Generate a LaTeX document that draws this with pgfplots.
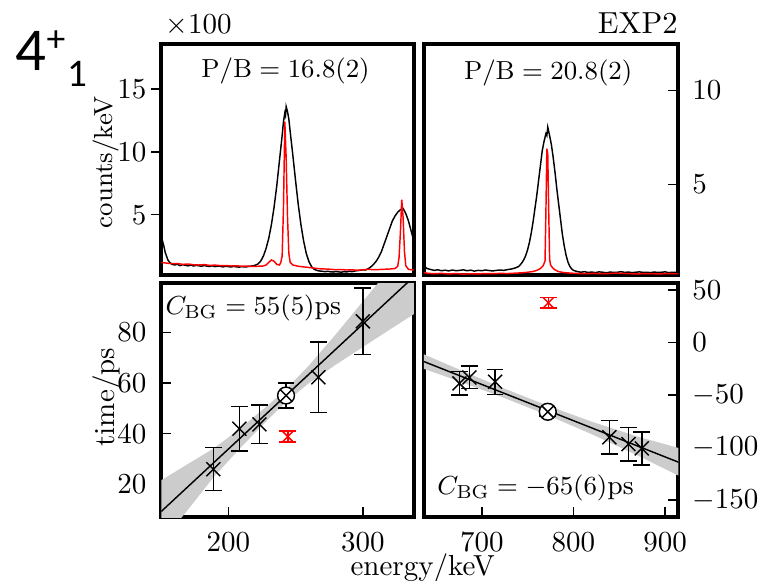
\documentclass[border=0pt]{standalone}
\usepackage{fontspec}
\usepackage{pgfplots}
\pgfplotsset{compat=1.18}
\newfontfamily\carlito{Carlito}
\definecolor{bandgray}{RGB}{204,204,204}

\pgfplotsset{
  panel/.style={scale only axis, anchor=south west,
    axis line style={line width=1.4pt},
    tick style={black, line width=0.5pt},
    major tick length=3.5pt,
    tick label style={font=\fontsize{10}{12}\selectfont}},
  leftlab/.style={ytick pos=left, yticklabel style={anchor=east, inner sep=0pt, xshift=#1}},
  rightlab/.style={ytick pos=right, yticklabel pos=right,
    yticklabel style={anchor=west, inner sep=0pt, xshift=4.6pt}},
  botlab/.style={xtick pos=bottom, xticklabel style={anchor=north, inner sep=0pt, yshift=-5.2pt}},
  spec/.style={sharp plot, line width=0.5pt, no marks},
  pts/.style={only marks, mark=x, mark size=3.4pt, black, line width=0.5pt,
    error bars/y dir=both, error bars/y explicit,
    error bars/error bar style={line width=0.5pt},
    error bars/error mark options={rotate=90, mark size=2.9pt, line width=0.5pt}},
}

\begin{document}
\begin{tikzpicture}
\useasboundingbox (0,0) rectangle (263.2pt,-200.4pt);

% top left spectrum
\begin{axis}[panel, at={(55.65pt,-94.88pt)}, width=87.11pt, height=79.77pt,
  xmin=150.1, xmax=338, ymin=0.2, ymax=18.6, xtick=\empty,
  ytick={5,10,15}, tick align=outside, leftlab=-1.5pt]
\addplot[spec, black] table {
150 3.4
151 2.9
152 2.5
153 2.0
154 1.7
155 1.4
156 1.25
158 1.05
160 1.0
162 1.06
164 0.95
166 1.02
168 0.98
170 0.93
172 1.0
174 0.92
176 0.97
178 0.94
180 0.9
182 0.96
184 0.91
186 0.88
188 0.94
190 0.87
192 0.92
194 0.89
196 0.85
198 0.9
200 0.87
202 0.84
204 0.89
206 0.85
208 0.83
210 0.87
212 0.84
214 0.86
216 0.9
218 0.93
220 0.98
222 1.08
224 1.3
226 1.7
228 2.3
230 3.1
232 4.2
234 5.6
236 7.3
238 9.3
240 11.3
241 12.4
242 13.1
242.5 12.9
243 13.6
244 13.2
245 12.6
246 11.6
248 9.7
250 7.7
252 5.8
254 4.2
256 2.9
258 1.9
260 1.25
262 0.85
264 0.65
266 0.56
268 0.52
270 0.5
272 0.47
274 0.5
276 0.46
278 0.44
280 0.48
282 0.45
284 0.43
286 0.47
288 0.45
290 0.5
292 0.47
294 0.52
296 0.55
298 0.58
300 0.62
302 0.6
304 0.7
306 0.85
308 1.05
310 1.3
312 1.65
314 2.1
316 2.7
318 3.3
320 3.9
322 4.5
324 4.9
326 5.2
328 5.4
330 5.5
332 5.1
334 4.5
336 3.7
338 2.9
340 2.3
};
\addplot[spec, red] table {
150 1.2
154 1.15
158 1.1
162 1.12
166 1.05
170 1.08
174 1.02
178 1.0
182 1.03
186 0.97
190 0.99
194 0.95
198 0.96
202 0.92
206 0.94
210 0.9
214 0.92
218 0.88
222 0.9
226 0.92
228 1.0
230 1.2
232 1.4
234 1.3
236 1.05
238 1.0
239 1.2
240 1.7
241 5.6
242 12.4
243 9.5
244 4.8
245 1.9
246 1.2
248 1.0
252 0.9
256 0.85
260 0.8
264 0.75
268 0.7
272 0.68
276 0.66
280 0.62
284 0.64
288 0.6
292 0.62
296 0.58
300 0.62
304 0.66
308 0.62
312 0.64
316 0.66
320 0.68
324 0.72
326 0.9
327 1.6
328 3.6
329 6.2
330 4.8
331 2.1
332 0.95
334 0.65
338 0.6
340 0.6
};
\end{axis}

% top right spectrum
\begin{axis}[panel, at={(146.21pt,-94.88pt)}, width=87.8pt, height=79.77pt,
  xmin=636.8, xmax=914.5, ymin=0.15, ymax=12.5, xtick=\empty,
  ytick={5,10}, tick align=inside, rightlab]
\addplot[spec, black] table {
636 0.75
638 0.6
640 0.5
644 0.45
648 0.4
652 0.43
656 0.38
660 0.41
664 0.37
668 0.42
672 0.38
676 0.4
680 0.43
684 0.38
688 0.41
692 0.36
696 0.4
700 0.38
704 0.42
708 0.39
712 0.37
716 0.4
720 0.42
724 0.4
728 0.44
732 0.47
736 0.52
740 0.6
742 0.7
744 0.82
746 0.98
748 1.2
750 1.5
752 1.9
754 2.4
756 3.0
758 3.7
760 4.4
762 5.2
764 6.0
766 6.8
768 7.3
770 7.7
771 7.6
772 8.05
774 7.6
776 7.1
778 6.4
780 5.6
782 4.7
784 3.9
786 3.1
788 2.3
790 1.7
792 1.2
794 0.85
796 0.62
798 0.48
800 0.4
804 0.34
808 0.3
812 0.33
816 0.29
820 0.31
824 0.28
828 0.32
832 0.3
836 0.27
840 0.31
844 0.29
848 0.3
852 0.33
856 0.29
860 0.31
864 0.28
868 0.3
872 0.32
876 0.29
880 0.3
884 0.28
888 0.31
892 0.29
896 0.3
900 0.32
904 0.28
908 0.3
912 0.29
916 0.3
};
\addplot[spec, red] table {
636 0.3
640 0.25
648 0.22
656 0.24
664 0.21
672 0.23
680 0.2
688 0.22
696 0.21
704 0.23
712 0.22
720 0.24
728 0.23
736 0.25
744 0.27
750 0.3
756 0.34
760 0.4
764 0.5
767 0.65
769 0.9
770 3.6
771 6.9
772 6.6
773 3.7
774 1.0
775 0.7
777 0.55
780 0.42
784 0.33
790 0.28
798 0.25
806 0.23
814 0.22
822 0.24
830 0.22
838 0.23
846 0.25
854 0.24
862 0.22
870 0.21
878 0.23
886 0.22
894 0.21
902 0.23
910 0.22
916 0.22
};
\end{axis}

% bottom left: time vs energy
\begin{axis}[panel, at={(55.65pt,-178.37pt)}, width=87.11pt, height=80.73pt,
  xmin=150.1, xmax=338, ymin=7.1, ymax=99.5,
  xtick={200,300}, ytick={20,40,60,80}, tick align=inside,
  leftlab=-5pt, botlab]
\addplot[fill=bandgray, draw=none] coordinates {
  (149,21.3) (170,28.1) (190,34.5) (210,42.6) (230,51.5) (243,57.6)
  (260,67.0) (280,79.3) (300,92.2) (320,105.1) (340,117.9)
  (340,87.9) (320,81.1) (300,74.2) (280,67.3) (260,60.0) (243,52.6)
  (230,45.9) (210,35.0) (190,23.5) (170,10.1) (149,-3.7)} -- cycle;
\addplot[black, line width=0.5pt] coordinates {(149,8.8) (340,103.0)};
\addplot[pts] coordinates {
  (188.8,26.0) +- (0,8.5)
  (208.2,42.0) +- (0,8.8)
  (223.1,43.7) +- (0,7.6)
  (267.0,62.3) +- (0,14.0)
  (300.0,84.4) +- (0,13.2)
};
\addplot[pts, mark=otimes*, mark options={fill=white}, mark size=2.9pt] coordinates {
  (242.9,55.1) +- (0,4.9)
};
\addplot[pts, red, mark size=2.6pt,
  error bars/error mark options={rotate=90, mark size=3.0pt, line width=0.5pt, red}] coordinates {
  (244.2,38.9) +- (0,2.2)
};
\end{axis}

% bottom right: time vs energy
\begin{axis}[panel, at={(146.21pt,-178.37pt)}, width=87.8pt, height=80.73pt,
  xmin=636.8, xmax=914.5, ymin=-166.2, ymax=56.7,
  xtick={700,800,900}, ytick={-150,-100,-50,0,50}, tick align=inside,
  rightlab, botlab]
\addplot[fill=bandgray, draw=none] coordinates {
  (634,-10.1) (680,-27.4) (720,-42.2) (771,-59.8) (820,-75.3) (870,-89.5) (916,-100.7)
  (916,-127.3) (870,-107.5) (820,-87.3) (771,-68.8) (720,-51.2) (680,-38.4) (634,-24.1)} -- cycle;
\addplot[black, line width=0.5pt] coordinates {(634,-17.1) (916,-114.4)};
\addplot[pts] coordinates {
  (675.6,-38.9) +- (0,11.1)
  (686.5,-33.2) +- (0,10.7)
  (714.5,-37.3) +- (0,11.9)
  (839.2,-90.2) +- (0,16.1)
  (860.0,-96.7) +- (0,16.0)
  (874.6,-100.8) +- (0,15.6)
};
\addplot[pts, mark=otimes*, mark options={fill=white}, mark size=2.9pt] coordinates {
  (772.0,-65.9) +- (0,4.0)
};
\addplot[pts, red, mark size=2.6pt,
  error bars/error mark options={rotate=90, mark size=3.0pt, line width=0.5pt, red}] coordinates {
  (772.7,37.9) +- (0,5.0)
};
\end{axis}

% annotations
\node[anchor=base west, inner sep=0pt] at (56.9pt,-11.4pt) {$\times100$};
\node[anchor=base east, inner sep=0pt, font=\fontsize{10.5}{12}\selectfont] at (233.9pt,-11.4pt) {EXP2};
\node[inner sep=0pt, font=\fontsize{9}{11}\selectfont] at (98.5pt,-24.5pt) {$\mathrm{P/B} = 16.8(2)$};
\node[inner sep=0pt, font=\fontsize{9}{11}\selectfont] at (189.1pt,-25.2pt) {$\mathrm{P/B} = 20.8(2)$};
\node[anchor=west, inner sep=0pt, font=\fontsize{9.3}{11}\selectfont] at (56.9pt,-106.3pt) {$C_{\mathrm{BG}} = 55(5)$ps};
\node[anchor=west, inner sep=0pt, font=\fontsize{9.3}{11}\selectfont] at (150.7pt,-168.2pt) {$C_{\mathrm{BG}} = -65(6)$ps};
\node[rotate=90, inner sep=0pt, font=\fontsize{9}{11}\selectfont] at (36.6pt,-55.9pt) {counts/keV};
\node[rotate=90, inner sep=0pt] at (36.9pt,-137pt) {time/ps};
\node[anchor=base, inner sep=0pt] at (145.8pt,-198.6pt) {energy/keV};
% level label
\node[anchor=base west, inner sep=0pt, font=\carlito\fontsize{21}{23}\selectfont] at (5.2pt,-24.2pt) {4};
\node[inner sep=0pt, font=\carlito\fontsize{13}{14}\selectfont] at (19.3pt,-14.3pt) {+};
\node[anchor=base west, inner sep=0pt, font=\carlito\fontsize{13.5}{15}\selectfont] at (23.2pt,-29.7pt) {1};
\end{tikzpicture}
\end{document}
